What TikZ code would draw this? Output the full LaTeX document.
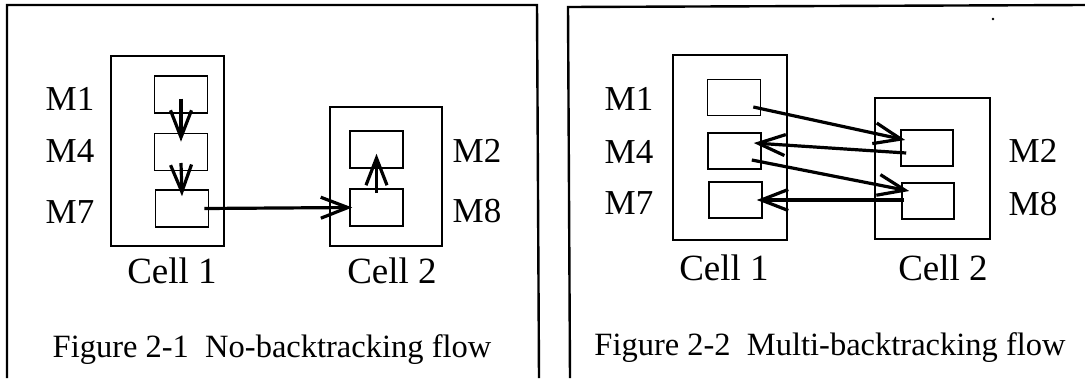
\documentclass[tikz,border=0pt]{standalone}
\usepackage{fontspec}
\setmainfont{Liberation Serif}
\usetikzlibrary{arrows.meta}
\begin{document}
\begin{tikzpicture}[x=1pt, y=-1pt,
    mbox/.style={draw, line width=1.6pt, inner sep=0pt, minimum width=53pt, minimum height=37pt},
    cellbox/.style={draw, line width=1.6pt, inner sep=0pt},
    lbl/.style={font=\fontsize{35}{40}\selectfont, anchor=base, inner sep=0pt},
    celllbl/.style={font=\fontsize{37}{44}\selectfont, anchor=base, inner sep=0pt},
    caption/.style={font=\fontsize{32.5}{40}\selectfont, anchor=base, inner sep=0pt},
    flow/.style={line width=3.2pt, -{Straight Barb[length=27pt,width=21pt]}}]
    \useasboundingbox (0,0) rectangle (1085,378);
    % Frames
    \draw[line width=2.4pt] (7,378) -- (7,5) -- (537,5) -- (539,378);
    \draw[line width=2.4pt] (570,378) -- (568,7) -- (1085,5);
    \fill (993,19) circle (1.4);

    % Figure 2-1
    \node[cellbox, minimum width=113pt, minimum height=190pt] (lc1) at (167.5,151) {};
    \node[cellbox, minimum width=112pt, minimum height=139pt] (lc2) at (386,176.5) {};
    \node[mbox] (lm1) at (181,94.5) {};
    \node[mbox] (lm4) at (181,152) {};
    \node[mbox] (lm7) at (182,208.5) {};
    \node[mbox] (lm2) at (376.5,149.5) {};
    \node[mbox] (lm8) at (376.5,207.5) {};
    \node[lbl] (llm1) at (70,110) {M1};
    \node[lbl] (llm4) at (70,162) {M4};
    \node[lbl] (llm7) at (70,223) {M7};
    \node[lbl] (llm2) at (477,162) {M2};
    \node[lbl] (llm8) at (477,222) {M8};
    \node[celllbl] (llc1) at (172,283) {Cell 1};
    \node[celllbl] (llc2) at (392,283) {Cell 2};
    \node[caption] (lcap) at (272,357) {Figure 2-1\ \ No-backtracking flow};
    \draw[flow] ([yshift=-4pt]lm1.center) -- ([yshift=-9pt]lm4.north);
    \draw[flow] ([yshift=-11pt]lm4.center) -- ([yshift=-7pt]lm7.north);
    \draw[flow] ([xshift=-5pt]lm7.east) -- ([xshift=3pt]lm8.west);
    \draw[flow] ([yshift=-5pt]lm8.north) -- ([yshift=15pt]lm2.south);

    % Figure 2-2
    \node[cellbox, minimum width=114pt, minimum height=185pt] (rc1) at (730,147.5) {};
    \node[cellbox, minimum width=115pt, minimum height=141pt] (rc2) at (932.5,168.5) {};
    \node[mbox, minimum height=36pt] (rm1) at (734,97.5) {};
    \node[mbox, minimum height=36pt] (rm4) at (734.5,151) {};
    \node[mbox, minimum height=36pt] (rm7) at (735.5,200) {};
    \node[mbox, minimum width=52pt, minimum height=36pt] (rm2) at (927,148) {};
    \node[mbox, minimum width=52pt, minimum height=36pt] (rm8) at (928,201) {};
    \node[lbl] (rlm1) at (629,110) {M1};
    \node[lbl] (rlm4) at (629,163) {M4};
    \node[lbl] (rlm7) at (629,214) {M7};
    \node[lbl] (rlm2) at (1033,162) {M2};
    \node[lbl] (rlm8) at (1033,215) {M8};
    \node[celllbl] (rlc1) at (724,280) {Cell 1};
    \node[celllbl] (rlc2) at (943,280) {Cell 2};
    \node[caption] (rcap) at (830,355) {Figure 2-2\ \ Multi-backtracking flow};
    \draw[flow] ([shift={(-8pt,-9.5pt)}]rm1.east) -- ([shift={(5pt,8pt)}]rm2.west);
    \draw[flow] ([shift={(6pt,-5pt)}]rm2.west) -- ([shift={(-8pt,8pt)}]rm4.east);
    \draw[flow] ([shift={(-10pt,-9pt)}]rm4.east) -- ([shift={(8pt,10pt)}]rm8.west);
    \draw[flow] ([shift={(3pt,1pt)}]rm8.west) -- ([xshift=-6pt]rm7.east);
\end{tikzpicture}
\end{document}
